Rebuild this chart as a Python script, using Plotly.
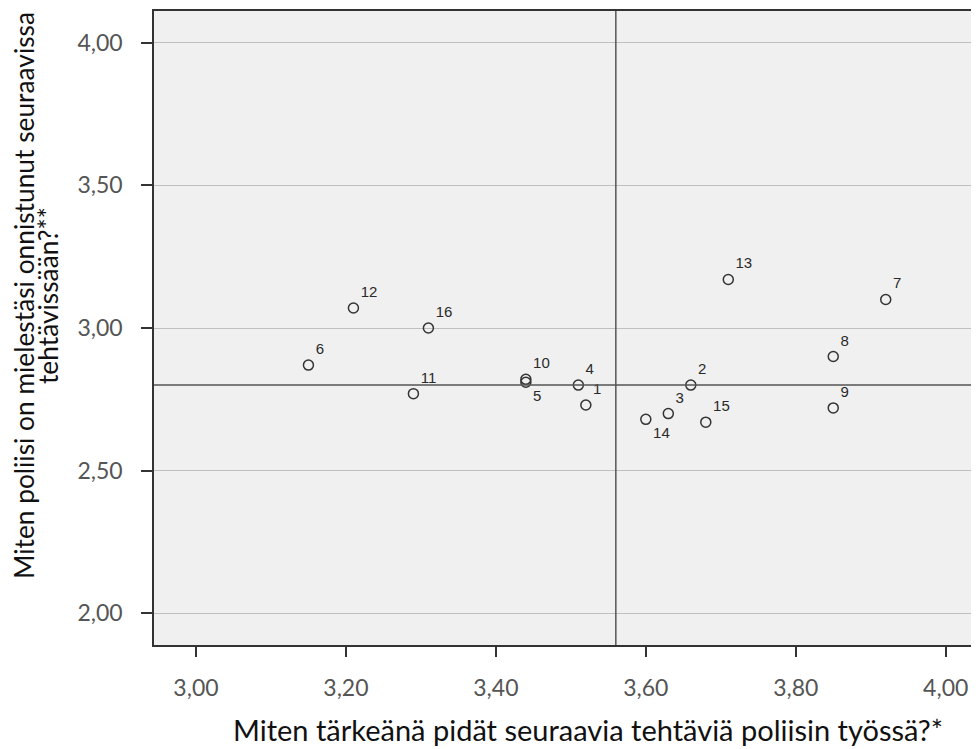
import plotly.graph_objects as go

# Data
labels = ["1", "2", "3", "4", "5", "6", "7", "8", "9", "10", "11", "12", "13", "14", "15", "16"]
x_vals = [3.52, 3.66, 3.63, 3.51, 3.44, 3.15, 3.92, 3.85, 3.85, 3.44, 3.29, 3.21, 3.71, 3.60, 3.68, 3.31]
y_vals = [2.73, 2.80, 2.70, 2.80, 2.81, 2.87, 3.10, 2.90, 2.72, 2.82, 2.77, 3.07, 3.17, 2.68, 2.67, 3.00]
label_pos = ["top right"] * 16
label_pos[4] = "bottom right"   # 5
label_pos[13] = "bottom right"  # 14

x_mean = 3.56
y_mean = 2.80

x_ticks = [3.00, 3.20, 3.40, 3.60, 3.80, 4.00]
x_ticktext = ["3,00", "3,20", "3,40", "3,60", "3,80", "4,00"]
y_ticks = [2.00, 2.50, 3.00, 3.50, 4.00]
y_ticktext = ["2,00", "2,50", "3,00", "3,50", "4,00"]

x_title = "Miten tärkeänä pidät seuraavia tehtäviä poliisin työssä?*"
y_title_1 = "Miten poliisi on mielestäsi onnistunut seuraavissa"
y_title_2 = "tehtävissään?**"

TITLE_FONT = "Lato"

fig = go.Figure()

fig.add_trace(go.Scatter(
    x=x_vals, y=y_vals, mode="markers+text",
    text=labels, textposition=label_pos,
    textfont=dict(family="Liberation Sans, Arial", size=15, color="#2a2a2a"),
    marker=dict(symbol="circle-open", size=10, color="#333333", line=dict(width=1.5, color="#333333")),
    showlegend=False, hoverinfo="skip", cliponaxis=False,
))

# Reference lines at means
fig.add_shape(type="line", xref="x", yref="paper", x0=x_mean, x1=x_mean, y0=0, y1=1,
              line=dict(color="#555555", width=1.5))
fig.add_shape(type="line", xref="paper", yref="y", x0=0, x1=1, y0=y_mean, y1=y_mean,
              line=dict(color="#555555", width=1.5))

# Plot area: 825 x 634 px
fig.add_annotation(text=x_title, xref="paper", yref="paper", x=(588 - 154) / 825, y=(645 - 729) / 634,
                   xanchor="center", yanchor="middle", showarrow=False,
                   font=dict(family=TITLE_FONT, size=29, color="#111111"))
fig.add_annotation(text=y_title_1, xref="paper", yref="paper", x=(24 - 154) / 825, y=(645 - 296) / 634,
                   xanchor="center", yanchor="middle", showarrow=False, textangle=-90,
                   font=dict(family=TITLE_FONT, size=26.3, color="#111111"))
fig.add_annotation(text=y_title_2, xref="paper", yref="paper", x=(48 - 154) / 825, y=(645 - 296) / 634,
                   xanchor="center", yanchor="middle", showarrow=False, textangle=-90,
                   font=dict(family=TITLE_FONT, size=26.3, color="#111111"))

# page body has an 8px margin: compensate so the plot sits where the reference has it
fig.update_layout(
    width=971, height=741,
    margin=dict(l=146, r=0, t=3, b=104),
    paper_bgcolor="white", plot_bgcolor="#f0f0f0",
    xaxis=dict(range=[2.944, 4.0444], tickvals=x_ticks, ticktext=x_ticktext,
               showgrid=False, zeroline=False, showline=True, linecolor="#333333", linewidth=1.5,
               mirror=True, ticks="outside", ticklen=10, tickwidth=1.5, tickcolor="#333333",
               ticklabelstandoff=12,
               tickfont=dict(family=TITLE_FONT, size=23, color="#555555")),
    yaxis=dict(range=[1.889, 4.111], tickvals=y_ticks, ticktext=y_ticktext,
               showgrid=True, gridcolor="#c0c0c0", gridwidth=1.3, zeroline=False,
               showline=True, linecolor="#333333", linewidth=1.5, mirror=False,
               ticks="outside", ticklen=11, tickwidth=1.5, tickcolor="#333333",
               ticklabelstandoff=14,
               tickfont=dict(family=TITLE_FONT, size=23, color="#555555")),
)

fig.write_html("out.html")
